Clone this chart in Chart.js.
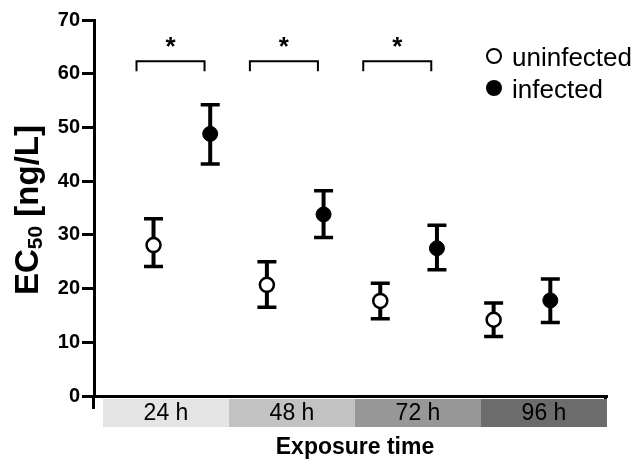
<!DOCTYPE html>
<html>
<head>
<meta charset="utf-8">
<script src="https://cdn.jsdelivr.net/npm/chart.js@4/dist/chart.umd.min.js"></script>
<style>
  html, body { margin: 0; padding: 0; background: #ffffff; }
  #wrap { width: 635px; height: 461px; }
</style>
</head>
<body>
<div id="wrap"><canvas id="c" width="635" height="461"></canvas></div>
<script>
// ---- data ----
const categories = ['24 h', '48 h', '72 h', '96 h'];
const uninfectedMean = [28.1, 20.7, 17.7, 14.2];
const uninfectedLow  = [24.1, 16.5, 14.4, 11.1];
const uninfectedHigh = [33.0, 25.0, 21.0, 17.3];
const infectedMean = [48.8, 33.8, 27.5, 17.8];
const infectedLow  = [43.2, 29.5, 23.5, 13.7];
const infectedHigh = [54.2, 38.2, 31.8, 21.8];
const significant = [true, true, true, false];
const bandColors = ['#e4e4e4', '#c2c2c2', '#979797', '#6c6c6c'];
const yMin = 0, yMax = 70, yStep = 10;
const seriesNames = ['uninfected', 'infected'];
const yTitleMain = 'EC', yTitleSub = '50', yTitleRest = ' [ng/L]';
const xTitle = 'Exposure time';
const sigMark = '*';

const FONT = "'Liberation Sans', Arial, sans-serif";

const uPoints = uninfectedMean.map((v, i) => ({ x: 2 * i + 1, y: v }));
const iPoints = infectedMean.map((v, i) => ({ x: 2 * i + 2, y: v }));

const decor = {
  id: 'decor',
  beforeDatasetsDraw(chart) {
    const { ctx } = chart;
    const xs = chart.scales.x, ys = chart.scales.y;
    ctx.save();
    ctx.strokeStyle = '#000';
    ctx.lineCap = 'butt';
    // error bars
    const drawErr = (x, lo, hi) => {
      const px = xs.getPixelForValue(x);
      const pLo = ys.getPixelForValue(lo), pHi = ys.getPixelForValue(hi);
      ctx.lineWidth = 4;
      ctx.beginPath(); ctx.moveTo(px, pLo); ctx.lineTo(px, pHi); ctx.stroke();
      ctx.lineWidth = 3.5;
      ctx.beginPath();
      ctx.moveTo(px - 9.5, pLo); ctx.lineTo(px + 9.5, pLo);
      ctx.moveTo(px - 9.5, pHi); ctx.lineTo(px + 9.5, pHi);
      ctx.stroke();
    };
    categories.forEach((c, i) => {
      drawErr(2 * i + 1, uninfectedLow[i], uninfectedHigh[i]);
      drawErr(2 * i + 2, infectedLow[i], infectedHigh[i]);
    });
    // significance brackets
    const topPx = ys.getPixelForValue(62.3);
    significant.forEach((s, i) => {
      if (!s) return;
      const l = xs.getPixelForValue(2 * i + 1 - 0.3);
      const r = xs.getPixelForValue(2 * i + 2 - 0.1);
      ctx.lineWidth = 2;
      ctx.beginPath();
      ctx.moveTo(l, topPx + 10); ctx.lineTo(l, topPx); ctx.lineTo(r, topPx); ctx.lineTo(r, topPx + 10);
      ctx.stroke();
      ctx.fillStyle = '#000';
      ctx.font = 'bold 26px ' + FONT;
      ctx.textAlign = 'center';
      ctx.textBaseline = 'middle';
      ctx.fillText(sigMark, (l + r) / 2, topPx - 14);
    });
    ctx.restore();
  },
  afterDraw(chart) {
    const { ctx, chartArea } = chart;
    ctx.save();
    // y axis extension below zero + right end tick
    ctx.strokeStyle = '#000';
    ctx.lineWidth = 3;
    ctx.beginPath();
    ctx.moveTo(chartArea.left - 0.5, chartArea.bottom);
    ctx.lineTo(chartArea.left - 0.5, chartArea.bottom + 13);
    ctx.moveTo(chartArea.right - 1.5, chartArea.bottom);
    ctx.lineTo(chartArea.right - 1.5, chartArea.bottom + 5);
    ctx.stroke();
    // category bands
    const bLeft = chartArea.left + 9, bRight = chartArea.right;
    const bw = (bRight - bLeft) / categories.length;
    const bTop = chartArea.bottom + 3, bH = 28;
    categories.forEach((c, i) => {
      ctx.fillStyle = bandColors[i];
      ctx.fillRect(bLeft + i * bw, bTop, bw, bH);
      ctx.fillStyle = '#000';
      ctx.font = '23px ' + FONT;
      ctx.textAlign = 'center';
      ctx.textBaseline = 'middle';
      ctx.fillText(c, bLeft + (i + 0.5) * bw, bTop + bH / 2 + 1);
    });
    // x title
    ctx.font = 'bold 23px ' + FONT;
    ctx.textAlign = 'center';
    ctx.textBaseline = 'alphabetic';
    ctx.fillText(xTitle, (bLeft + bRight) / 2, 454);
    // y title (rotated, with subscript)
    const mainF = 'bold 33px ' + FONT, subF = 'bold 21px ' + FONT;
    ctx.font = mainF; const w1 = ctx.measureText(yTitleMain).width; const w3 = ctx.measureText(yTitleRest).width;
    ctx.font = subF; const w2 = ctx.measureText(yTitleSub).width;
    const total = w1 + w2 + w3;
    ctx.translate(38, 210);
    ctx.rotate(-Math.PI / 2);
    ctx.textAlign = 'left';
    let x0 = -total / 2;
    ctx.font = mainF; ctx.fillText(yTitleMain, x0, 0); x0 += w1;
    ctx.font = subF; ctx.fillText(yTitleSub, x0, 4); x0 += w2;
    ctx.font = mainF; ctx.fillText(yTitleRest, x0, 0);
    ctx.setTransform(1, 0, 0, 1, 0, 0);
    // legend
    const lx = 494, ly = [56, 88];
    ctx.lineWidth = 2;
    ctx.beginPath(); ctx.arc(lx, ly[0], 7, 0, Math.PI * 2);
    ctx.fillStyle = '#fff'; ctx.fill(); ctx.stroke();
    ctx.beginPath(); ctx.arc(lx, ly[1], 8, 0, Math.PI * 2);
    ctx.fillStyle = '#000'; ctx.fill();
    ctx.fillStyle = '#000';
    ctx.font = '26px ' + FONT;
    ctx.textAlign = 'left';
    ctx.textBaseline = 'alphabetic';
    ctx.fillText(seriesNames[0], 512, ly[0] + 9.5);
    ctx.fillText(seriesNames[1], 512, ly[1] + 9.5);
    ctx.restore();
  }
};

new Chart(document.getElementById('c'), {
  type: 'scatter',
  data: {
    datasets: [
      { label: seriesNames[0], data: uPoints, pointRadius: 7, pointHoverRadius: 7,
        pointBackgroundColor: '#ffffff', pointBorderColor: '#000000', pointBorderWidth: 2.5, showLine: false },
      { label: seriesNames[1], data: iPoints, pointRadius: 7.5, pointHoverRadius: 7.5,
        pointBackgroundColor: '#000000', pointBorderColor: '#000000', pointBorderWidth: 1, showLine: false }
    ]
  },
  options: {
    responsive: false,
    animation: false,
    devicePixelRatio: 1,
    layout: { padding: { top: 20, right: 28, left: 0, bottom: 0 } },
    plugins: { legend: { display: false }, tooltip: { enabled: false } },
    scales: {
      x: {
        type: 'linear', min: -0.05, max: 9,
        grid: { display: false },
        border: { display: true, color: '#000', width: 3 },
        ticks: { display: false },
        afterFit(s) { s.height = 65; }
      },
      y: {
        min: yMin, max: yMax,
        ticks: { stepSize: yStep, color: '#000', padding: 2, font: { family: FONT, size: 20, weight: 'bold' } },
        grid: { drawOnChartArea: false, drawTicks: true, tickLength: 12, color: '#000', lineWidth: 3 },
        border: { display: true, color: '#000', width: 3 },
        afterFit(s) { s.width = 94; }
      }
    }
  },
  plugins: [decor]
});
</script>
</body>
</html>
